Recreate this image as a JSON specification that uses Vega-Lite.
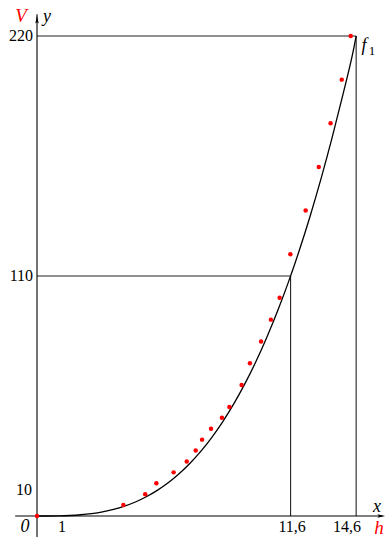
{
  "$schema": "https://vega.github.io/schema/vega-lite/v6.json",
  "width": 386,
  "height": 537,
  "padding": 0,
  "autosize": {"type": "none"},
  "background": "white",
  "config": {"view": {"stroke": null}},
  "datasets": {
    "curve": [
      {"h": 0, "V": 0}, {"h": 0.5, "V": 0.0088}, {"h": 1, "V": 0.0705}, {"h": 1.5, "V": 0.238},
      {"h": 2, "V": 0.564}, {"h": 2.5, "V": 1.101}, {"h": 3, "V": 1.903}, {"h": 3.5, "V": 3.022},
      {"h": 4, "V": 4.51}, {"h": 4.5, "V": 6.422}, {"h": 5, "V": 8.809}, {"h": 5.5, "V": 11.725},
      {"h": 6, "V": 15.222}, {"h": 6.5, "V": 19.353}, {"h": 7, "V": 24.172}, {"h": 7.5, "V": 29.73},
      {"h": 8, "V": 36.08}, {"h": 8.5, "V": 43.28}, {"h": 9, "V": 51.37}, {"h": 9.5, "V": 60.42},
      {"h": 10, "V": 70.47}, {"h": 10.5, "V": 81.58}, {"h": 11, "V": 93.8}, {"h": 11.5, "V": 107.18},
      {"h": 11.6, "V": 110}, {"h": 12, "V": 121.78}, {"h": 12.5, "V": 137.64}, {"h": 13, "V": 154.83},
      {"h": 13.5, "V": 173.39}, {"h": 14, "V": 193.38}, {"h": 14.5, "V": 214.84}, {"h": 14.6, "V": 220}
    ],
    "dots": [
      {"h": 0, "V": 0}, {"h": 3.95, "V": 5}, {"h": 4.95, "V": 10}, {"h": 5.46, "V": 15},
      {"h": 6.25, "V": 20}, {"h": 6.85, "V": 25}, {"h": 7.26, "V": 30}, {"h": 7.55, "V": 35},
      {"h": 7.96, "V": 40}, {"h": 8.46, "V": 45}, {"h": 8.8, "V": 50}, {"h": 9.36, "V": 60},
      {"h": 9.74, "V": 70}, {"h": 10.25, "V": 80}, {"h": 10.7, "V": 90}, {"h": 11.1, "V": 100},
      {"h": 11.59, "V": 120}, {"h": 12.29, "V": 140}, {"h": 12.89, "V": 160}, {"h": 13.43, "V": 180},
      {"h": 13.94, "V": 200}, {"h": 14.35, "V": 220}
    ],
    "guides": [
      {"h1": 0, "V1": 220, "h2": 14.6, "V2": 220},
      {"h1": 0, "V1": 110, "h2": 11.6, "V2": 110},
      {"h1": 11.6, "V1": 0, "h2": 11.6, "V2": 110},
      {"h1": 14.6, "V1": 0, "h2": 14.6, "V2": 220}
    ],
    "axes": [
      {"h1": -1.0, "V1": 0, "h2": 15.8, "V2": 0},
      {"h1": 0, "V1": -9.6, "h2": 0, "V2": 230}
    ],
    "arrowX": [{"h": 15.75, "V": 0}],
    "arrowY": [{"h": 0, "V": 227.5}],
    "ylabels": [
      {"t": "220", "h": -0.18, "V": 220},
      {"t": "110", "h": -0.18, "V": 110},
      {"t": "10", "h": -0.23, "V": 11.9}
    ],
    "xlabels": [
      {"t": "1", "h": 1.14, "V": -5.0},
      {"t": "11,6", "h": 11.67, "V": -5.0},
      {"t": "14,6", "h": 14.18, "V": -5.0}
    ],
    "italics": [
      {"t": "0", "h": -0.55, "V": -5.0},
      {"t": "x", "h": 15.55, "V": 4.1},
      {"t": "y", "h": 0.46, "V": 228.7},
      {"t": "f", "h": 14.96, "V": 215.4}
    ],
    "reds": [
      {"t": "V", "h": -0.73, "V": 229.2},
      {"t": "h", "h": 15.64, "V": -5.5}
    ],
    "subs": [
      {"t": "1", "h": 15.32, "V": 213.0}
    ]
  },
  "encoding": {
    "x": {"type": "quantitative", "scale": {"domain": [-1.693, 15.965], "nice": false, "zero": false}, "axis": null},
    "y": {"type": "quantitative", "scale": {"domain": [-9.625, 236.5], "nice": false, "zero": false}, "axis": null}
  },
  "layer": [
    {
      "data": {"name": "guides"},
      "mark": {"type": "rule", "color": "#222222", "strokeWidth": 1.1},
      "encoding": {
        "x": {"field": "h1", "type": "quantitative"},
        "y": {"field": "V1", "type": "quantitative"},
        "x2": {"field": "h2"},
        "y2": {"field": "V2"}
      }
    },
    {
      "data": {"name": "axes"},
      "mark": {"type": "rule", "color": "#000000", "strokeWidth": 1.1},
      "encoding": {
        "x": {"field": "h1", "type": "quantitative"},
        "y": {"field": "V1", "type": "quantitative"},
        "x2": {"field": "h2"},
        "y2": {"field": "V2"}
      }
    },
    {
      "data": {"name": "arrowX"},
      "mark": {"type": "point", "shape": "M-1,-0.45L1,0L-1,0.45L-0.6,0Z", "filled": true, "color": "#000000", "size": 60, "opacity": 1},
      "encoding": {
        "x": {"field": "h", "type": "quantitative"},
        "y": {"field": "V", "type": "quantitative"}
      }
    },
    {
      "data": {"name": "arrowY"},
      "mark": {"type": "point", "shape": "M-0.45,1L0,-1L0.45,1L0,0.6Z", "filled": true, "color": "#000000", "size": 60, "opacity": 1},
      "encoding": {
        "x": {"field": "h", "type": "quantitative"},
        "y": {"field": "V", "type": "quantitative"}
      }
    },
    {
      "data": {"name": "curve"},
      "mark": {"type": "line", "color": "#000000", "strokeWidth": 1.3, "interpolate": "monotone"},
      "encoding": {
        "x": {"field": "h", "type": "quantitative"},
        "y": {"field": "V", "type": "quantitative"}
      }
    },
    {
      "data": {"name": "dots"},
      "mark": {"type": "circle", "color": "#ff0000", "size": 20, "opacity": 1},
      "encoding": {
        "x": {"field": "h", "type": "quantitative"},
        "y": {"field": "V", "type": "quantitative"}
      }
    },
    {
      "data": {"name": "ylabels"},
      "mark": {"type": "text", "align": "right", "baseline": "middle", "font": "Liberation Serif", "fontSize": 16, "color": "#000000"},
      "encoding": {
        "x": {"field": "h", "type": "quantitative"},
        "y": {"field": "V", "type": "quantitative"},
        "text": {"field": "t"}
      }
    },
    {
      "data": {"name": "xlabels"},
      "mark": {"type": "text", "align": "center", "baseline": "middle", "font": "Liberation Serif", "fontSize": 16, "color": "#000000"},
      "encoding": {
        "x": {"field": "h", "type": "quantitative"},
        "y": {"field": "V", "type": "quantitative"},
        "text": {"field": "t"}
      }
    },
    {
      "data": {"name": "italics"},
      "mark": {"type": "text", "align": "center", "baseline": "middle", "font": "Liberation Serif", "fontStyle": "italic", "fontSize": 18, "color": "#000000"},
      "encoding": {
        "x": {"field": "h", "type": "quantitative"},
        "y": {"field": "V", "type": "quantitative"},
        "text": {"field": "t"}
      }
    },
    {
      "data": {"name": "reds"},
      "mark": {"type": "text", "align": "center", "baseline": "middle", "font": "Liberation Serif", "fontStyle": "italic", "fontSize": 19, "color": "#ff0000"},
      "encoding": {
        "x": {"field": "h", "type": "quantitative"},
        "y": {"field": "V", "type": "quantitative"},
        "text": {"field": "t"}
      }
    },
    {
      "data": {"name": "subs"},
      "mark": {"type": "text", "align": "center", "baseline": "middle", "font": "Liberation Serif", "fontSize": 13, "color": "#000000"},
      "encoding": {
        "x": {"field": "h", "type": "quantitative"},
        "y": {"field": "V", "type": "quantitative"},
        "text": {"field": "t"}
      }
    }
  ]
}
